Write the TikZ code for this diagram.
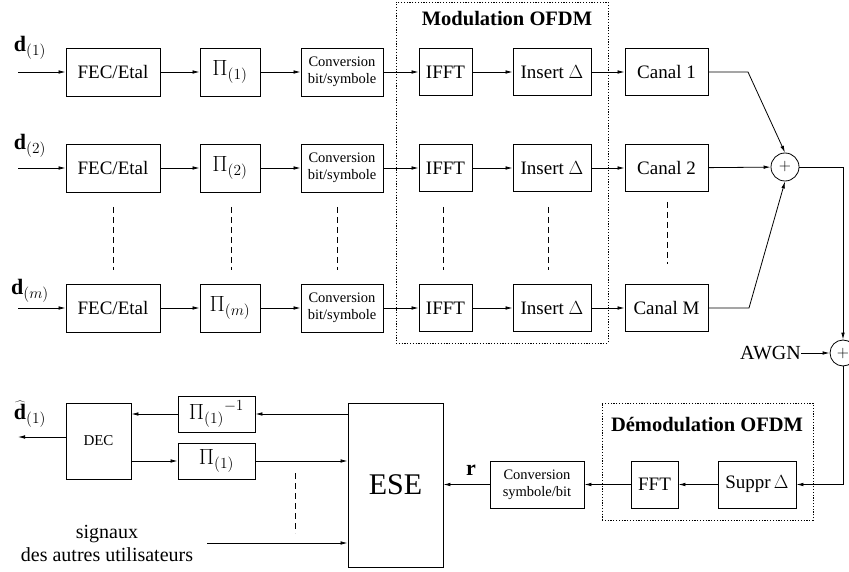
\RequirePackage{fix-cm}
\documentclass[tikz,border=0pt]{standalone}
\usepackage{fontspec}
\setmainfont{Liberation Serif}
\usetikzlibrary{arrows.meta}
\begin{document}
\begin{tikzpicture}[x=1pt,y=-1pt,
  blk/.style={draw, line width=0.9pt, inner sep=0pt, font=\fontsize{19}{22}\selectfont},
  mblk/.style={blk, font=\fontsize{22}{24}\selectfont},
  small/.style={blk, align=center, font=\fontsize{14.5}{17}\selectfont},
  sumc/.style={draw, circle, line width=0.8pt, inner sep=0pt, font=\fontsize{16}{16}\selectfont},
  lab/.style={inner sep=0pt, font=\fontsize{22}{24}\selectfont},
  txt/.style={inner sep=0pt, font=\fontsize{20}{23}\selectfont},
  ttl/.style={inner sep=0pt, font=\bfseries\fontsize{20.5}{23}\selectfont},
  arr/.style={line width=0.8pt, -{Latex[length=7pt,width=3.6pt]}},
  vdash/.style={line width=0.7pt, dash pattern=on 6pt off 4pt},
  frame/.style={line width=0.8pt, dash pattern=on 1.2pt off 1.6pt}
]
\useasboundingbox (0,0) rectangle (849,572);

% OFDM modulation frame
\node[frame, draw, inner sep=0pt, minimum width=212, minimum height=341] (modframe) at (502,172.5) {};
\node[ttl] (modtitle) at (507,19) {Modulation OFDM};

% rows
\foreach \r/\y/\s in {1/72/{(1)}, 2/168/{(2)}, m/308/{(m)}} {
  \coordinate (in\r) at (18,\y);
  \node[blk, minimum width=94, minimum height=48] (fec\r) at (113,\y) {FEC/Etal};
  \node[mblk, minimum width=60, minimum height=48] (pi\r) at (230,\y) {$\Pi_{\s}$};
  \node[small, minimum width=82, minimum height=48] (conv\r) at (342,\y) {Conversion\\bit/symbole};
  \node[blk, minimum width=53, minimum height=47] (ifft\r) at (445.5,\y) {IFFT};
  \node[blk, minimum width=78, minimum height=47] (ins\r) at (552,\y) {Insert $\Delta$};
  \draw[arr] (in\r) -- (fec\r);
  \draw[arr] (fec\r) -- (pi\r);
  \draw[arr] (pi\r) -- (conv\r);
  \draw[arr] (conv\r) -- (ifft\r);
  \draw[arr] (ifft\r) -- (ins\r);
}
\node[lab] (d1) at (30,48) {$\mathbf{d}_{(1)}$};
\node[lab] (d2) at (30,146) {$\mathbf{d}_{(2)}$};
\node[lab] (dm) at (30,291) {$\mathbf{d}_{(m)}$};

\node[blk, minimum width=83, minimum height=47] (can1) at (666.5,72) {Canal 1};
\node[blk, minimum width=83, minimum height=47] (can2) at (666.5,168) {Canal 2};
\node[blk, minimum width=83, minimum height=47] (canm) at (666.5,308) {Canal M};
\draw[arr] (ins1) -- (can1);
\draw[arr] (ins2) -- (can2);
\draw[arr] (insm) -- (canm);

% vertical dashes between row 2 and row m
\foreach \x in {113,231,337,443,548} {
  \draw[vdash] (\x,207) -- (\x,270);
}
\draw[vdash] (667,202) -- (667,264);

% summation
\node[sumc, minimum size=28] (sum1) at (785,167) {$+$};
\node[sumc, minimum size=26] (sum2) at (843,353) {$+$};
\coordinate (k1) at (748,72);
\coordinate (km) at (749,308);
\draw[arr] (can1) -- (k1) -- (sum1.north);
\draw[arr] (can2) -- (sum1);
\draw[arr] (canm) -- (km) -- (sum1.south);
\coordinate (c1) at (843,167);
\draw[arr] (sum1) -- (c1) -- (sum2.north);
\node[txt, anchor=east] (awgn) at (801,353) {AWGN};
\draw[arr] (awgn) -- (sum2);

% demodulation
\node[frame, draw, inner sep=0pt, minimum width=211, minimum height=117] (demframe) at (707.5,461.5) {};
\node[ttl] (demtitle) at (707,425) {Démodulation OFDM};
\node[blk, minimum width=78, minimum height=47] (sup) at (757,484.5) {Suppr$\,\Delta$};
\node[blk, minimum width=47, minimum height=47] (fft) at (654.5,484.5) {FFT};
\node[small, minimum width=94, minimum height=47] (convsb) at (537,484.5) {Conversion\\symbole/bit};
\node[blk, minimum width=95, minimum height=164, font=\fontsize{30}{30}\selectfont] (ese) at (395.5,485) {ESE};
\coordinate (c2) at (843,484.5);
\draw[arr] (sum2.south) -- (c2) -- (sup);
\draw[arr] (sup) -- (fft);
\draw[arr] (fft) -- (convsb);
\draw[arr] (convsb) -- (ese.east |- convsb);
\node[lab] (rlab) at (471,470) {$\mathbf{r}$};

% decoder loop
\node[mblk, minimum width=77, minimum height=36] (piinv) at (216.5,414) {${\Pi_{(1)}}^{-1}$};
\node[mblk, minimum width=77, minimum height=36] (pib) at (216.5,461) {$\Pi_{(1)}$};
\node[blk, minimum width=65, minimum height=76, font=\fontsize{15}{15}\selectfont] (dec) at (98.5,441) {DEC};
\draw[arr] (ese.west |- piinv) -- (piinv);
\draw[arr] (piinv) -- (dec.east |- piinv);
\draw[arr] (dec.east |- pib) -- (pib);
\draw[arr] (pib) -- (ese.west |- pib);
\coordinate (dout) at (18,437);
\draw[arr] (dec.west |- dout) -- (dout);
\node[lab] (dhat) at (30,414) {$\widehat{\mathbf{d}}_{(1)}$};
\draw[vdash] (295,473) -- (295,533);
\node[txt, align=center] (sig) at (107,543) {signaux\\des autres utilisateurs};
\coordinate (sigs) at (207,543);
\draw[arr] (sigs) -- (ese.west |- sigs);
\end{tikzpicture}
\end{document}
